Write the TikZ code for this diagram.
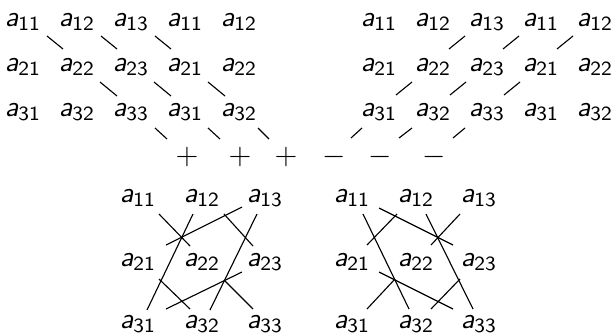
\documentclass[tikz,border=0pt]{standalone}
\usepackage{amsmath}
\newcommand{\ea}[1]{$\textsf{\slshape a}_{\textsf{#1}}$}
\begin{document}
\begin{tikzpicture}[x=0.4pt, y=-0.4pt,
  every node/.style={inner sep=0pt, font=\fontsize{11.5}{13.5}\selectfont},
  ln/.style={line width=0.45pt, black}]
\useasboundingbox (0,0) rectangle (613,334);
% ---- top-left block ----
\foreach \r/\y in {1/22,2/67,3/112}{
  \foreach \c/\x/\k in {1/23/1,2/77/2,3/131/3,4/185/1,5/239/2}
    \node (tl\r\c) at (\x,\y) {\ea{\r\k}};
}
% ---- top-right block ----
\foreach \r/\y in {1/22,2/67,3/112}{
  \foreach \c/\x/\k in {1/379/1,2/433/2,3/487/3,4/541/1,5/595/2}
    \node (tr\r\c) at (\x,\y) {\ea{\r\k}};
}
% ---- signs ----
\node (p1) at (187,157) {$+$};
\node (p2) at (240,157) {$+$};
\node (p3) at (286,157) {$+$};
\node (m1) at (334,157) {$-$};
\node (m2) at (380,157) {$-$};
\node (m3) at (434,157) {$-$};
% ---- top-left diagonals ----
\foreach \a/\b in {tl11/tl22, tl12/tl23, tl13/tl24}
  \draw[ln] ([shift={(24,14)}]\a.center) -- ([shift={(-14,-18)}]\b.center);
\foreach \a/\b in {tl22/tl33, tl23/tl34, tl24/tl35}
  \draw[ln] ([shift={(23,15)}]\a.center) -- ([shift={(-14,-16)}]\b.center);
\draw[ln] ([shift={(24,16)}]tl33.center) -- ([shift={(-20,-18)}]p1.center);
\draw[ln] ([shift={(23,16)}]tl34.center) -- ([shift={(-20,-18)}]p2.center);
\draw[ln] ([shift={(19,16)}]tl35.center) -- ([shift={(-17,-18)}]p3.center);
% ---- top-right anti-diagonals ----
\foreach \a/\b in {tr13/tr22, tr14/tr23, tr15/tr24}
  \draw[ln] ([shift={(-22,14)}]\a.center) -- ([shift={(16,-18)}]\b.center);
\foreach \a/\b in {tr22/tr31, tr23/tr32, tr24/tr33}
  \draw[ln] ([shift={(-21,15)}]\a.center) -- ([shift={(17,-17)}]\b.center);
\draw[ln] ([shift={(-17,16)}]tr31.center) -- ([shift={(17,-19)}]m1.center);
\draw[ln] ([shift={(-21,16)}]tr32.center) -- ([shift={(19,-19)}]m2.center);
\draw[ln] ([shift={(-22,16)}]tr33.center) -- ([shift={(19,-19)}]m3.center);
% ---- bottom-left block ----
\foreach \r/\y in {1/198,2/262,3/324}{
  \foreach \c/\x in {1/138,2/202,3/265}
    \node (bl\r\c) at (\x,\y) {\ea{\r\c}};
}
\draw[ln] ([shift={(21,16)}]bl11.center) -- ([shift={(-12,-16)}]bl22.center);
\draw[ln] ([shift={(-9,16)}]bl12.center) -- ([shift={(9,-14)}]bl31.center);
\draw[ln] ([shift={(-23,9)}]bl13.center) -- ([shift={(28,-17)}]bl21.center);
\draw[ln] ([shift={(22,16)}]bl12.center) -- ([shift={(-12,-16)}]bl23.center);
\draw[ln] ([shift={(-8,16)}]bl13.center) -- ([shift={(8,-14)}]bl32.center);
\draw[ln] ([shift={(21,17)}]bl21.center) -- ([shift={(-12,-15)}]bl32.center);
\draw[ln] ([shift={(-23,10)}]bl23.center) -- ([shift={(28,-15)}]bl31.center);
\draw[ln] ([shift={(22,18)}]bl22.center) -- ([shift={(-12,-15)}]bl33.center);
% ---- bottom-right block ----
\foreach \r/\y in {1/198,2/262,3/324}{
  \foreach \c/\x in {1/352,2/416,3/479}
    \node (br\r\c) at (\x,\y) {\ea{\r\c}};
}
\draw[ln] ([shift={(-19,16)}]br13.center) -- ([shift={(15,-17)}]br22.center);
\draw[ln] ([shift={(-19,16)}]br12.center) -- ([shift={(15,-17)}]br21.center);
\draw[ln] ([shift={(27,10)}]br11.center) -- ([shift={(-26,-17)}]br23.center);
\draw[ln] ([shift={(11,16)}]br11.center) -- ([shift={(-7,-15)}]br32.center);
\draw[ln] ([shift={(10,16)}]br12.center) -- ([shift={(-6,-15)}]br33.center);
\draw[ln] ([shift={(-21,17)}]br22.center) -- ([shift={(15,-15)}]br31.center);
\draw[ln] ([shift={(27,10)}]br21.center) -- ([shift={(-26,-15)}]br33.center);
\draw[ln] ([shift={(-19,17)}]br23.center) -- ([shift={(15,-15)}]br32.center);
\end{tikzpicture}
\end{document}
